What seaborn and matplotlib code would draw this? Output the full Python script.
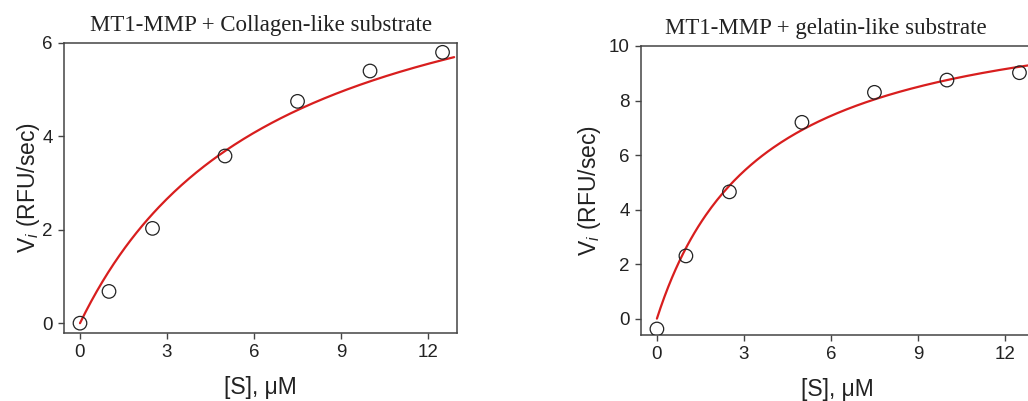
import numpy as np
import pandas as pd
import seaborn as sns
from matplotlib import pyplot as plt

# substrate concentrations and initial rates
conc = [0, 1, 2.5, 5, 7.5, 10, 12.5]
rate_collagen = [0.0, 0.68, 2.03, 3.58, 4.75, 5.40, 5.80]
rate_gelatin = [-0.38, 2.30, 4.65, 7.20, 8.30, 8.75, 9.02]

# Michaelis-Menten fit parameters (Vmax, Km) as they appear in the curves
vmax_collagen, km_collagen = 8.7, 6.8
vmax_gelatin, km_gelatin = 11.9, 3.6

titles = ['MT1-MMP + Collagen-like substrate', 'MT1-MMP + gelatin-like substrate']
xticks = [0, 3, 6, 9, 12]

sns.set_style('ticks')
plt.rcParams['font.family'] = ['Liberation Sans', 'DejaVu Sans']
plt.rcParams['mathtext.fontset'] = 'custom'
plt.rcParams['mathtext.rm'] = 'Liberation Sans'
plt.rcParams['mathtext.it'] = 'Liberation Sans:italic'

fig = plt.figure(figsize=(10.28, 4.01), dpi=100)
ax1 = fig.add_axes([0.0623, 0.1696, 0.3823, 0.7232])
ax2 = fig.add_axes([0.6235, 0.1646, 0.3823, 0.7207])


def panel(ax, rates, vmax, km, ylim, yticks, title, title_x, ypad):
    pts = pd.DataFrame({'S': conc, 'V': rates})
    s_fit = np.linspace(0, 12.9, 200)
    fit = pd.DataFrame({'S': s_fit, 'V': vmax * s_fit / (km + s_fit)})
    sns.lineplot(data=fit, x='S', y='V', ax=ax, color='#d81e1e', linewidth=1.6)
    sns.scatterplot(data=pts, x='S', y='V', ax=ax, marker='o', s=95,
                    facecolor='none', edgecolor='#222222', linewidth=0.9, zorder=3)
    ax.set_xlim(-0.55, 13.0)
    ax.set_ylim(*ylim)
    ax.set_xticks(xticks)
    ax.set_yticks(yticks)
    ax.tick_params(labelsize=13.5, labelcolor='#222222', color='#444444',
                   width=1.0, length=4, pad=4)
    for sp in ax.spines.values():
        sp.set_color('#444444')
        sp.set_linewidth(1.1)
    ax.set_xlabel('[S], μM', fontsize=16.5, labelpad=11, color='#222222')
    ax.set_ylabel('V$_{i}$ (RFU/sec)', fontsize=16.5, labelpad=ypad, color='#222222')
    ax.text(title_x, 1.025, title, transform=ax.transAxes, ha='center', va='bottom',
            fontsize=16.5, family='Liberation Serif', color='#222222')


panel(ax1, rate_collagen, vmax_collagen, km_collagen, (-0.21, 6.0), [0, 2, 4, 6],
      titles[0], 0.5, 0)
panel(ax2, rate_gelatin, vmax_gelatin, km_gelatin, (-0.6, 10.0), [0, 2, 4, 6, 8, 10],
      titles[1], 0.47, 4)

plt.savefig('out.png', dpi=100)
